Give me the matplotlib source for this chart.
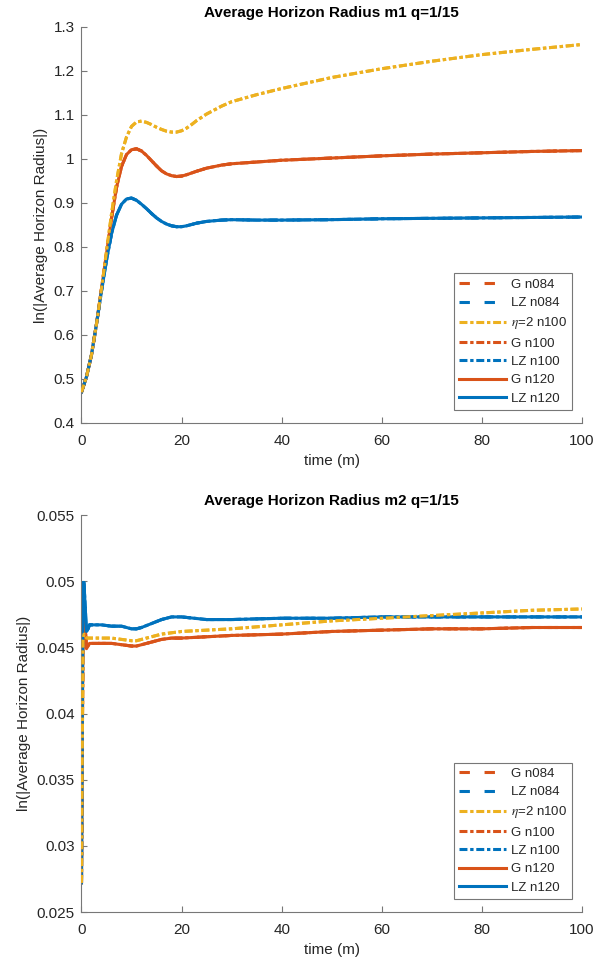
import matplotlib
matplotlib.use("Agg")
import matplotlib.pyplot as plt

plt.rcParams['font.family'] = ['Liberation Sans', 'DejaVu Sans']
plt.rcParams['mathtext.fontset'] = 'stix'

BLUE, ORANGE, YELLOW = "#0072BD", "#D95319", "#EDB120"

# m1 horizon radius vs time
t1 = [0, 1, 2, 3, 4, 5, 6, 7, 8, 9, 10, 11, 12, 13, 14, 15, 16, 17, 18, 19, 20,
      21, 22, 23, 25, 28, 30, 35, 40, 50, 60, 70, 80, 90, 100]
g1 = [0.470, 0.505, 0.555, 0.625, 0.705, 0.785, 0.865, 0.935, 0.983, 1.010, 1.021,
      1.023, 1.018, 1.008, 0.996, 0.984, 0.973, 0.966, 0.962, 0.960, 0.961,
      0.964, 0.968, 0.972, 0.979, 0.986, 0.989, 0.993, 0.997, 1.002, 1.007,
      1.011, 1.014, 1.017, 1.019]
lz1 = [0.470, 0.505, 0.555, 0.625, 0.700, 0.770, 0.830, 0.872, 0.897, 0.909, 0.911,
       0.906, 0.897, 0.887, 0.876, 0.866, 0.858, 0.852, 0.848, 0.846, 0.846,
       0.848, 0.851, 0.854, 0.858, 0.861, 0.862, 0.861, 0.861, 0.862, 0.864,
       0.865, 0.866, 0.867, 0.868]
eta1 = [0.470, 0.505, 0.555, 0.625, 0.705, 0.790, 0.875, 0.950, 1.012, 1.050, 1.074,
        1.084, 1.086, 1.083, 1.078, 1.072, 1.067, 1.063, 1.061, 1.061, 1.064,
        1.070, 1.078, 1.087, 1.102, 1.120, 1.130, 1.146, 1.160, 1.185, 1.205,
        1.222, 1.237, 1.249, 1.260]

# m2 horizon radius vs time
t2 = [0, 0.3, 0.5, 0.8, 1.0, 1.3, 1.6, 2, 3, 4, 6, 8, 10, 11, 12, 14, 16, 18,
      20, 25, 30, 40, 50, 60, 70, 80, 90, 100]
g2 = [0.0272, 0.0462, 0.0478, 0.0462, 0.0449, 0.0451, 0.0453, 0.0453, 0.0453,
      0.0453, 0.0453, 0.0452, 0.0451, 0.0451, 0.0452, 0.0454, 0.0456, 0.0457,
      0.0457, 0.0458, 0.0459, 0.0460, 0.0462, 0.0463, 0.0464, 0.0464, 0.0465,
      0.0465]
lz2 = [0.0272, 0.0499, 0.0499, 0.0476, 0.0462, 0.0464, 0.0467, 0.0467, 0.0467,
       0.0467, 0.0466, 0.0466, 0.0464, 0.0464, 0.0465, 0.0468, 0.0471, 0.0473,
       0.0473, 0.0471, 0.0471, 0.0472, 0.0472, 0.0473, 0.0473, 0.0473, 0.0473,
       0.0473]
eta2 = [0.0272, 0.0455, 0.0460, 0.0458, 0.0457, 0.0457, 0.0457, 0.0457, 0.0457,
        0.0457, 0.0457, 0.0456, 0.0455, 0.0455, 0.0456, 0.0458, 0.0460, 0.0461,
        0.0462, 0.0463, 0.0464, 0.0467, 0.0470, 0.0472, 0.0474, 0.0476, 0.0478,
        0.0479]

labels = ["G n084", "LZ n084", r"$\eta$=2 n100", "G n100", "LZ n100", "G n120", "LZ n120"]
dashed = (0, (3.4, 4.8))
dashdot = (0, (2.6, 0.9, 1.1, 0.9))


def draw(ax, t, g, lz, eta, ylim, yticks, title):
    lw = 2.2
    ax.plot(t, g, color=ORANGE, lw=lw, ls=dashed, label=labels[0])
    ax.plot(t, lz, color=BLUE, lw=lw, ls=dashed, label=labels[1])
    ax.plot(t, eta, color=YELLOW, lw=lw, ls=dashdot, label=labels[2])
    ax.plot(t, g, color=ORANGE, lw=lw, ls=dashdot, label=labels[3])
    ax.plot(t, lz, color=BLUE, lw=lw, ls=dashdot, label=labels[4])
    ax.plot(t, g, color=ORANGE, lw=lw, label=labels[5])
    ax.plot(t, lz, color=BLUE, lw=lw, label=labels[6])
    ax.plot(t, eta, color=YELLOW, lw=lw, ls=dashdot, zorder=5)
    ax.set_xlim(0, 100)
    ax.set_ylim(*ylim)
    ax.set_xticks([0, 20, 40, 60, 80, 100])
    ax.set_yticks(yticks)
    ax.set_yticklabels([f"{v:g}" for v in yticks])
    for s in ("top", "right"):
        ax.spines[s].set_visible(False)
    for s in ("left", "bottom"):
        ax.spines[s].set_color("#777777")
        ax.spines[s].set_linewidth(0.8)
    ax.tick_params(direction="in", length=4, width=0.8, color="#777777",
                   labelcolor="#262626", labelsize=11)
    ax.tick_params(axis="x", pad=8)
    ax.tick_params(axis="y", pad=5)
    ax.set_xlabel("time (m)", fontsize=11, color="#262626", labelpad=4)
    ax.set_ylabel("ln(|Average Horizon Radius|)", fontsize=11, color="#262626",
                  labelpad=4)
    ax.set_title(title, fontsize=11, fontweight="bold", pad=7)
    leg = ax.legend(loc="lower right", bbox_to_anchor=(0.981, 0.033), fontsize=9.5,
                    handlelength=3.6, handletextpad=0.35, labelspacing=0.46,
                    borderpad=0.4, borderaxespad=0, fancybox=False, framealpha=1)
    leg.get_frame().set_edgecolor("#777777")
    leg.get_frame().set_linewidth(0.8)
    for txt in leg.get_texts():
        txt.set_color("#262626")


fig = plt.figure(figsize=(6.05, 9.58), dpi=100)
ax1 = fig.add_axes([0.1347, 0.5585, 0.827, 0.4134])
ax2 = fig.add_axes([0.1347, 0.048, 0.827, 0.4144])

draw(ax1, t1, g1, lz1, eta1, (0.4, 1.3),
     [0.4, 0.5, 0.6, 0.7, 0.8, 0.9, 1.0, 1.1, 1.2, 1.3],
     "Average Horizon Radius m1 q=1/15")
draw(ax2, t2, g2, lz2, eta2, (0.025, 0.055),
     [0.025, 0.03, 0.035, 0.04, 0.045, 0.05, 0.055],
     "Average Horizon Radius m2 q=1/15")

fig.savefig("out.png", dpi=100)
